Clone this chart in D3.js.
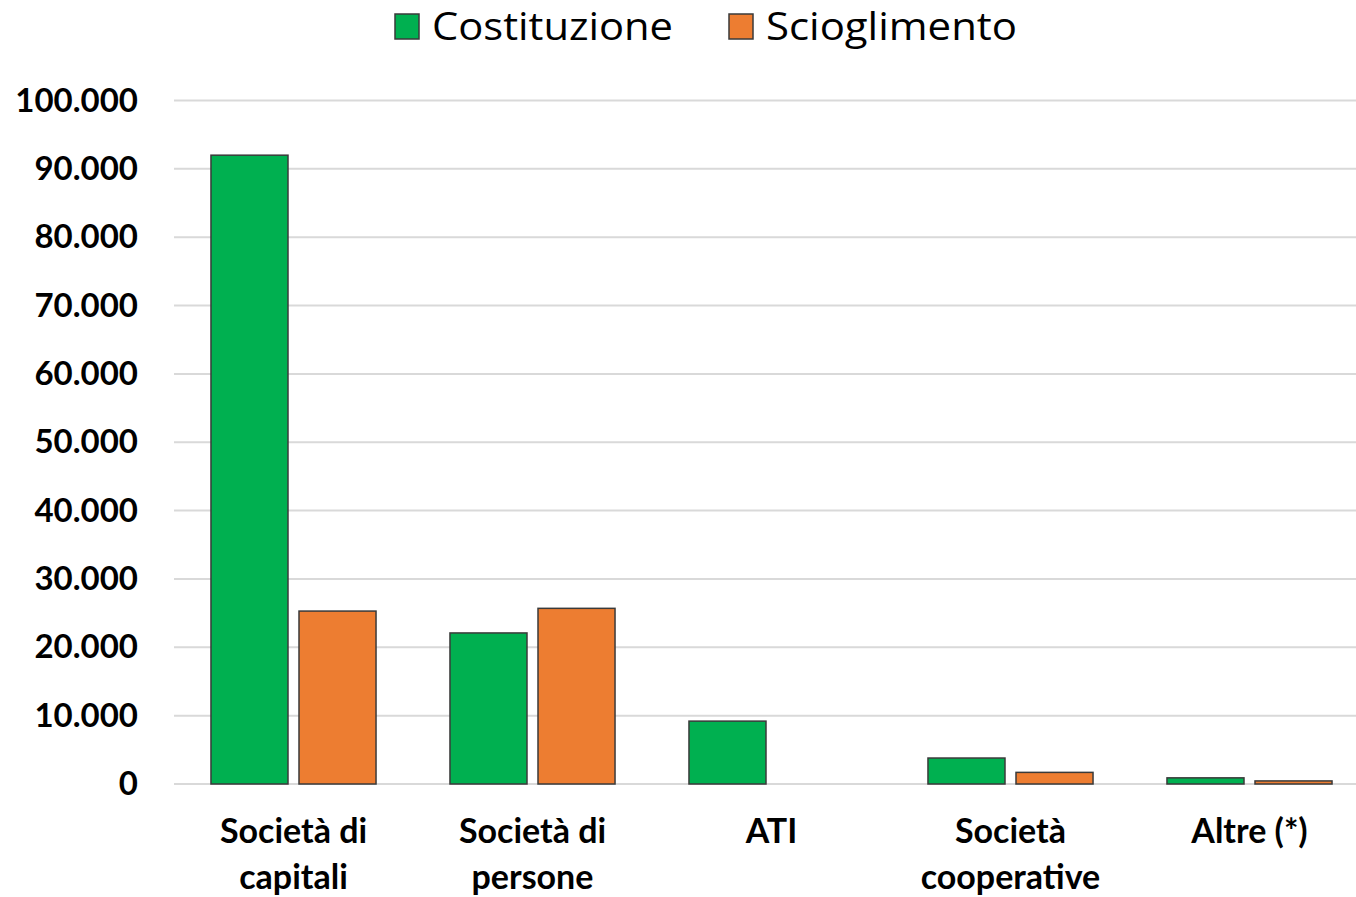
<!DOCTYPE html>
<html>
<head>
<meta charset="utf-8">
<script src="https://cdn.jsdelivr.net/npm/d3@7"></script>
<style>
  html, body { margin: 0; padding: 0; background: #fff; }
  svg { display: block; font-family: Lato, "Open Sans", sans-serif; }
</style>
</head>
<body>
<svg id="chart" width="1356" height="897"></svg>
<script>
// Categorie di società (etichette su due righe)
const categories = [
  ["Società di", "capitali"],
  ["Società di", "persone"],
  ["ATI"],
  ["Società", "cooperative"],
  ["Altre (*)"]
];
const seriesNames = ["Costituzione", "Scioglimento"];
const costituzione = [92000, 22100, 9200, 3800, 900];
const scioglimento = [25300, 25700, 0, 1700, 450];
const yTicks = [0, 10000, 20000, 30000, 40000, 50000, 60000, 70000, 80000, 90000, 100000];
const colors = ["#00b050", "#ed7d31"];

const svg = d3.select("#chart");
const margin = { left: 174, right: -13, top: 100.5, bottom: 113 };
const W = 1356, H = 897;

const keys = categories.map(c => c.join(" "));
const x = d3.scaleBand().domain(keys).range([margin.left, W - margin.right]).paddingInner(0).paddingOuter(0);
const xInner = d3.scaleBand().domain(seriesNames).range([0, x.bandwidth()]).paddingOuter(0.42).paddingInner(0.125);
const y = d3.scaleLinear().domain([0, 100000]).range([H - margin.bottom, margin.top]);

const fmt = v => d3.format(",")(v).replace(/,/g, ".");

// Griglia orizzontale
svg.append("g")
  .selectAll("line")
  .data(yTicks)
  .join("line")
  .attr("x1", margin.left)
  .attr("x2", W)
  .attr("y1", d => y(d))
  .attr("y2", d => y(d))
  .attr("stroke", "#d9d9d9")
  .attr("stroke-width", 2);

// Asse Y
const yAxis = svg.append("g")
  .attr("transform", `translate(${margin.left},0)`)
  .call(d3.axisLeft(y).tickValues(yTicks).tickFormat(fmt).tickSize(0).tickPadding(36));
yAxis.select(".domain").remove();
yAxis.selectAll("text")
  .attr("font-family", "Lato, sans-serif")
  .attr("font-weight", "bold")
  .attr("font-size", 33)
  .attr("fill", "#000");

// Barre
const rows = categories.map((c, i) => ({
  key: keys[i],
  values: [costituzione[i], scioglimento[i]]
}));
const groups = svg.append("g").selectAll("g")
  .data(rows)
  .join("g")
  .attr("transform", d => `translate(${x(d.key)},0)`);
groups.selectAll("rect")
  .data(d => d.values.map((v, j) => ({ name: seriesNames[j], value: v, j })).filter(e => e.value > 0))
  .join("rect")
  .attr("x", d => xInner(d.name))
  .attr("width", xInner.bandwidth())
  .attr("y", d => y(d.value))
  .attr("height", d => y(0) - y(d.value))
  .attr("fill", d => colors[d.j])
  .attr("stroke", "#3a3a3a")
  .attr("stroke-width", 1.5);

// Etichette categorie
const xLabels = svg.append("g").selectAll("text")
  .data(categories)
  .join("text")
  .attr("x", (d, i) => x(keys[i]) + x.bandwidth() / 2)
  .attr("y", 843)
  .attr("text-anchor", "middle")
  .attr("font-family", "Lato, sans-serif")
  .attr("font-weight", "bold")
  .attr("font-size", 34)
  .attr("fill", "#000");
xLabels.selectAll("tspan")
  .data(d => d)
  .join("tspan")
  .attr("x", function() { return this.parentNode.getAttribute("x"); })
  .attr("dy", (d, i) => i === 0 ? 0 : 46)
  .text(d => d);

// Legenda
const legendX = [395, 729];
const legendTextLen = [241, 251];
const legend = svg.append("g").selectAll("g")
  .data(seriesNames)
  .join("g")
  .attr("transform", (d, i) => `translate(${legendX[i]},0)`);
legend.append("rect")
  .attr("x", 0).attr("y", 14)
  .attr("width", 24).attr("height", 25)
  .attr("fill", (d, i) => colors[i])
  .attr("stroke", "#3a3a3a")
  .attr("stroke-width", 1.5);
legend.append("text")
  .attr("x", 37).attr("y", 40)
  .attr("font-family", "\"Open Sans\", sans-serif")
  .attr("font-size", 38)
  .attr("textLength", (d, i) => legendTextLen[i])
  .attr("lengthAdjust", "spacingAndGlyphs")
  .attr("fill", "#000")
  .text(d => d);
</script>
</body>
</html>
